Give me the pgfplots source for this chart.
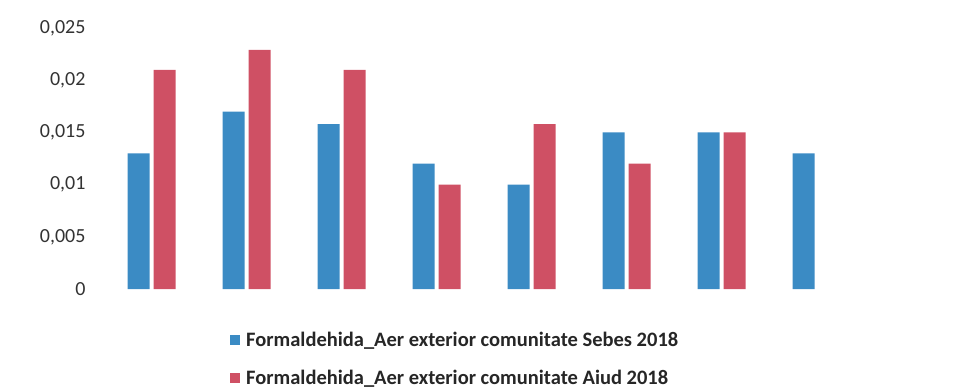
\documentclass[border=0pt]{standalone}
\usepackage{fontspec}
\setmainfont{Carlito}
\usepackage{pgfplots}
\pgfplotsset{compat=1.18}
\usetikzlibrary{calc}

\definecolor{sebes}{HTML}{3B8BC4}
\definecolor{aiud}{HTML}{CF5064}
\definecolor{labelgray}{HTML}{333333}

\begin{document}
\begin{tikzpicture}
\begin{axis}[
  name=ax,
  scale only axis,
  width=760pt, height=261pt,
  ybar=4pt, bar width=22pt,
  xmin=-0.5, xmax=7.5,
  ymin=0, ymax=0.025,
  xtick=\empty,
  ytick={0,0.005,0.01,0.015,0.02,0.025},
  major tick length=0pt,
  axis line style={draw=none},
  scaled y ticks=false,
  yticklabel style={
    /pgf/number format/.cd, use comma, fixed, precision=3,
    /pgf/number format/assume math mode=true,
    /tikz/.cd, font=\fontsize{20}{22}\selectfont, text=labelgray,
    xshift=-15pt},
  legend style={
    at={(126pt,-43pt)}, anchor=north west,
    draw=none, fill=none, inner sep=0pt,
    row sep=20pt,
    font=\bfseries\fontsize{20.5}{23}\selectfont,
    nodes={text height=14pt, text depth=4pt, inner ysep=0pt, inner xsep=6pt, text=black!85},
  },
  legend cell align=left,
  legend image code/.code={\fill[#1] (0pt,-4pt) rectangle (10pt,6pt);},
]
% Sebes 2018
\addplot[fill=sebes, draw=none] coordinates {
  (0,0.0130) (1,0.0170) (2,0.0158) (3,0.0120)
  (4,0.0100) (5,0.0150) (6,0.0150) (7,0.0130)};
% Aiud 2018 (no value for the last month)
\addplot[fill=aiud, draw=none] coordinates {
  (0,0.0210) (1,0.0229) (2,0.0210) (3,0.0100)
  (4,0.0158) (5,0.0120) (6,0.0150)};
\legend{Formaldehida\_Aer exterior comunitate Sebes 2018,
        Formaldehida\_Aer exterior comunitate Aiud 2018}
\end{axis}
\pgfresetboundingbox
\path[use as bounding box]
  ($(ax.south west)+(-104pt,-101pt)$) rectangle ($(ax.north east)+(95pt,28pt)$);
\end{tikzpicture}
\end{document}
